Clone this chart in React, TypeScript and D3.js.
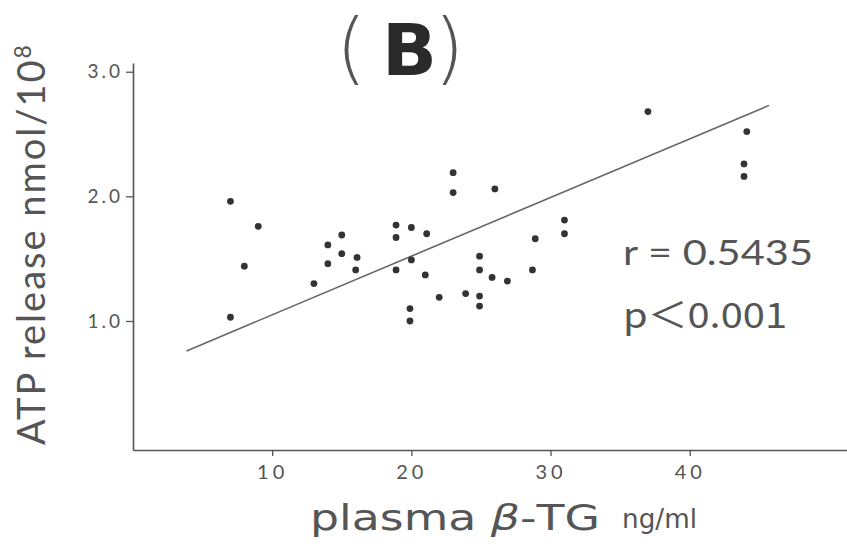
import React, { useEffect, useRef } from "react";
import * as d3 from "d3";

// plasma beta-TG (ng/ml) and ATP release (nmol/10^8)
const plasmaTG = [7.0, 9.0, 8.0, 7.0, 13.0, 14.0, 14.0, 15.0, 15.0, 16.1, 16.0, 18.9, 18.9, 18.9, 20.0, 20.0, 21.1, 21.0, 19.9, 19.9, 22.0, 23.0, 23.0, 23.9, 24.9, 24.9, 24.9, 24.9, 25.8, 26.0, 26.9, 28.9, 28.7, 31.0, 31.0, 37.0, 44.1, 43.9, 43.9];
const atpRelease = [1.96, 1.76, 1.44, 1.03, 1.30, 1.61, 1.46, 1.69, 1.54, 1.51, 1.41, 1.77, 1.67, 1.41, 1.75, 1.49, 1.70, 1.37, 1.10, 1.00, 1.19, 2.19, 2.03, 1.22, 1.20, 1.12, 1.52, 1.41, 1.35, 2.06, 1.32, 1.66, 1.41, 1.81, 1.70, 2.68, 2.52, 2.26, 2.16];
const fitX = [3.85, 45.7];
const fitY = [0.76, 2.73];
const xTicks = [10, 20, 30, 40];
const yTicks = [1.0, 2.0, 3.0];

const W = 847, H = 544;
const FONT = "Lato, 'DejaVu Sans', sans-serif";
const WIDE = "'DejaVu Sans', sans-serif";
const INK = "#555";

export default function App() {
    const ref = useRef<SVGSVGElement>(null);

    useEffect(() => {
        const svg = d3.select(ref.current);
        svg.selectAll("*").remove();

        const x = d3.scaleLinear().domain([0, 51.3]).range([133, 847]);
        const y = d3.scaleLinear().domain([-0.035, 3.07]).range([450, 63]);

        // x axis
        const gx = svg.append("g")
            .attr("transform", "translate(0," + y(-0.035) + ")")
            .call(d3.axisBottom(x).tickValues(xTicks).tickSize(6).tickSizeOuter(0).tickPadding(9));
        gx.select(".domain").attr("stroke", INK).attr("stroke-width", 1.6);
        gx.selectAll(".tick line").attr("stroke", INK).attr("stroke-width", 1.3);
        gx.selectAll(".tick text")
            .attr("fill", INK)
            .style("font-family", FONT)
            .style("font-size", "20px")
            .style("letter-spacing", "4px");

        // y axis
        const gy = svg.append("g")
            .attr("transform", "translate(" + x(0) + ",0)")
            .call(d3.axisLeft(y).tickValues(yTicks).tickFormat(d3.format(".1f")).tickSize(7).tickSizeOuter(0).tickPadding(3));
        gy.select(".domain").attr("stroke", INK).attr("stroke-width", 1.6);
        gy.selectAll(".tick line").attr("stroke", INK).attr("stroke-width", 1.3);
        gy.selectAll(".tick text")
            .attr("fill", INK)
            .style("font-family", FONT)
            .style("font-size", "19px")
            .style("letter-spacing", "3px");

        // regression line
        const fit = fitX.map((v, i) => [v, fitY[i]] as [number, number]);
        svg.append("path")
            .datum(fit)
            .attr("fill", "none")
            .attr("stroke", "#666")
            .attr("stroke-width", 1.6)
            .attr("d", d3.line().x(d => x(d[0])).y(d => y(d[1])));

        // dots
        svg.append("g")
            .selectAll("circle")
            .data(plasmaTG)
            .enter()
            .append("circle")
            .attr("cx", d => x(d))
            .attr("cy", (d, i) => y(atpRelease[i]))
            .attr("r", 3.4)
            .attr("fill", "#333");

        // title
        const title = svg.append("text")
            .attr("y", 75)
            .attr("fill", "#555")
            .style("font-family", WIDE);
        title.append("tspan").attr("x", 336).style("font-size", "78px").style("font-weight", 200).text("(");
        title.append("tspan").attr("x", 382).style("font-size", "72px").style("font-weight", "bold").attr("fill", "#2a2a2a").text("B");
        title.append("tspan").attr("x", 434).style("font-size", "78px").style("font-weight", 200).text(")");

        // statistics
        svg.append("text")
            .attr("x", 623).attr("y", 265)
            .attr("textLength", 190).attr("lengthAdjust", "spacingAndGlyphs")
            .attr("fill", INK)
            .style("font-family", FONT)
            .style("font-size", "35px")
            .text("r = 0.5435");
        svg.append("text")
            .attr("x", 623).attr("y", 328)
            .attr("textLength", 164).attr("lengthAdjust", "spacingAndGlyphs")
            .attr("fill", INK)
            .style("font-family", "'Noto Sans CJK JP', " + FONT)
            .style("font-size", "35px")
            .text("p＜0.001");

        // axis titles
        const xt = svg.append("text")
            .attr("x", 310).attr("y", 530)
            .attr("textLength", 290).attr("lengthAdjust", "spacingAndGlyphs")
            .attr("fill", INK)
            .style("font-family", WIDE)
            .style("font-size", "36px");
        xt.append("tspan").text("plasma ");
        xt.append("tspan").style("font-style", "italic").text("β");
        xt.append("tspan").text("-TG");
        svg.append("text")
            .attr("x", 622).attr("y", 528)
            .attr("textLength", 75).attr("lengthAdjust", "spacingAndGlyphs")
            .attr("fill", INK)
            .style("font-family", WIDE)
            .style("font-size", "27px")
            .text("ng/ml");

        const yt = svg.append("text")
            .attr("transform", "translate(45,445) rotate(-90)")
            .attr("fill", INK)
            .style("font-family", FONT)
            .style("font-size", "38px")
            .style("letter-spacing", "2px");
        yt.append("tspan").text("ATP release nmol/10");
        yt.append("tspan").attr("dy", -14).style("font-size", "23px").text("8");
    }, []);

    return (
        <svg ref={ref} width={W} height={H}
            style={{ position: "absolute", left: 0, top: 0, background: "#fff" }} />
    );
}
